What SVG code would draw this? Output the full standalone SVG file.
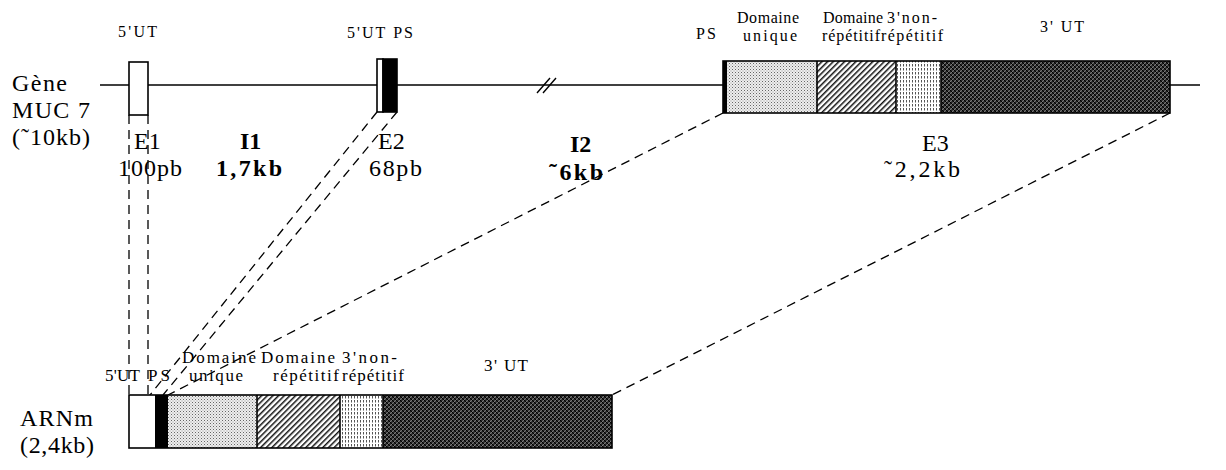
<svg xmlns="http://www.w3.org/2000/svg" width="1226" height="470" viewBox="0 0 1226 470">
<style>
.t{font-family:"Liberation Serif","Times New Roman",serif;fill:#000}
.s{font-size:16px}
.m{font-size:17px}
.l{font-size:24px}
.b{font-size:24px;font-weight:bold}
.box{stroke:#000;stroke-width:1.6}
.dash{fill:none;stroke:#000;stroke-width:1.3;stroke-dasharray:9 6}
.line{stroke:#000;stroke-width:1.4;fill:none}
</style>
<defs>
<pattern id="dots" width="3" height="3" patternUnits="userSpaceOnUse">
<rect width="3" height="3" fill="#eeeeee"/>
<rect x="0" y="0" width="1" height="1" fill="#666"/>
<rect x="1.5" y="1.5" width="1" height="1" fill="#999"/>
</pattern>
<pattern id="hatch" width="4" height="4" patternUnits="userSpaceOnUse" patternTransform="rotate(45)">
<rect width="4" height="4" fill="#fff"/>
<rect x="0" y="0" width="1.5" height="4" fill="#111"/>
</pattern>
<pattern id="vert" width="3" height="4" patternUnits="userSpaceOnUse">
<rect width="3" height="4" fill="#fff"/>
<rect x="0" y="0" width="1" height="2.5" fill="#555"/>
</pattern>
<pattern id="cross" width="4" height="4" patternUnits="userSpaceOnUse">
<rect width="4" height="4" fill="#444"/>
<path d="M0 4L4 0M-1 1L1 -1M3 5L5 3" stroke="#fff" stroke-width="0.9"/>
<path d="M0 0L4 4M-1 3L1 5M3 -1L5 1" stroke="#000" stroke-width="1.4"/>
</pattern>
</defs>

<g id="connectors">
<line class="dash" x1="129" y1="115" x2="129" y2="395"/>
<line class="dash" x1="148" y1="115" x2="148" y2="395"/>
<line class="dash" x1="377" y1="112" x2="150" y2="395"/>
<line class="dash" x1="397" y1="112" x2="163" y2="395"/>
<line class="dash" x1="723" y1="113" x2="168" y2="395"/>
<line class="dash" x1="1170" y1="113" x2="612" y2="395"/>
</g>

<g id="gene-line">
<line class="line" x1="100" y1="85" x2="1200" y2="85"/>
<line class="line" x1="537" y1="93" x2="550" y2="78"/>
<line class="line" x1="543" y1="93" x2="556" y2="78"/>
</g>

<g id="gene-label">
<text class="t l" x="12" y="91" textLength="55">Gène</text>
<text class="t l" x="12" y="118" textLength="78">MUC 7</text>
<text class="t l" x="12" y="145" textLength="78">(˜10kb)</text>
</g>

<g id="E1">
<rect class="box" x="129" y="62" width="19" height="53" fill="#fff"/>
<text class="t s" x="118" y="37" textLength="39">5'UT</text>
<text class="t l" x="134" y="149">E1</text>
<text class="t l" x="118" y="176" textLength="64">100pb</text>
</g>

<g id="I1">
<text class="t b" x="240" y="149">I1</text>
<text class="t b" x="216" y="176" textLength="66">1,7kb</text>
</g>

<g id="E2">
<rect class="box" x="377" y="59" width="6" height="53" fill="#fff"/>
<rect class="box" x="383" y="59" width="14" height="53" fill="#000"/>
<text class="t s" x="347" y="38" textLength="66">5'UT PS</text>
<text class="t l" x="378" y="149">E2</text>
<text class="t l" x="369" y="176" textLength="53">68pb</text>
</g>

<g id="I2">
<text class="t b" x="570" y="152">I2</text>
<text class="t b" x="549" y="180" textLength="54">˜6kb</text>
</g>

<g id="E3">
<rect x="727" y="61" width="90" height="52" fill="url(#dots)"/>
<rect x="817" y="61" width="79" height="52" fill="url(#hatch)"/>
<rect x="896" y="61" width="45" height="52" fill="url(#vert)"/>
<rect x="941" y="61" width="229" height="52" fill="url(#cross)"/>
<rect class="box" x="723" y="61" width="447" height="52" fill="none"/>
<rect x="723" y="61" width="4" height="52" fill="#000"/>
<line class="box" x1="817" y1="61" x2="817" y2="113"/>
<line class="box" x1="896" y1="61" x2="896" y2="113"/>
<line class="box" x1="941" y1="61" x2="941" y2="113"/>
<text class="t s" x="696" y="39" textLength="20">PS</text>
<text class="t s" x="737" y="23" textLength="62">Domaine</text>
<text class="t s" x="743" y="41" textLength="54">unique</text>
<text class="t s" x="823" y="23" textLength="60">Domaine</text>
<text class="t s" x="887" y="23" textLength="50">3'non-</text>
<text class="t s" x="822" y="41" textLength="58">répétitif</text>
<text class="t s" x="881" y="41" textLength="62">répétitif</text>
<text class="t s" x="1040" y="32" textLength="44">3' UT</text>
<text class="t l" x="922" y="151">E3</text>
<text class="t l" x="884" y="177" textLength="76">˜2,2kb</text>
</g>

<g id="mRNA">
<rect x="129" y="395" width="26" height="53" fill="#fff"/>
<rect x="155" y="395" width="13" height="53" fill="#000"/>
<rect x="168" y="395" width="89" height="53" fill="url(#dots)"/>
<rect x="257" y="395" width="83" height="53" fill="url(#hatch)"/>
<rect x="340" y="395" width="43" height="53" fill="url(#vert)"/>
<rect x="383" y="395" width="229" height="53" fill="url(#cross)"/>
<rect class="box" x="129" y="395" width="483" height="53" fill="none"/>
<line class="box" x1="257" y1="395" x2="257" y2="448"/>
<line class="box" x1="340" y1="395" x2="340" y2="448"/>
<line class="box" x1="383" y1="395" x2="383" y2="448"/>
<text class="t m" x="105" y="381" textLength="35">5'UT</text>
<text class="t m" x="148" y="381" textLength="22">PS</text>
<text class="t m" x="182" y="363" textLength="74">Domaine</text>
<text class="t m" x="189" y="381" textLength="54">unique</text>
<text class="t m" x="261" y="363" textLength="74">Domaine</text>
<text class="t m" x="342" y="363" textLength="55">3'non-</text>
<text class="t m" x="273" y="381" textLength="66">répétitif</text>
<text class="t m" x="342" y="381" textLength="62">répétitif</text>
<text class="t m" x="484" y="371" textLength="44">3' UT</text>
</g>

<g id="mRNA-label">
<text class="t l" x="20" y="426" textLength="73">ARNm</text>
<text class="t l" x="20" y="453" textLength="74">(2,4kb)</text>
</g>
</svg>
